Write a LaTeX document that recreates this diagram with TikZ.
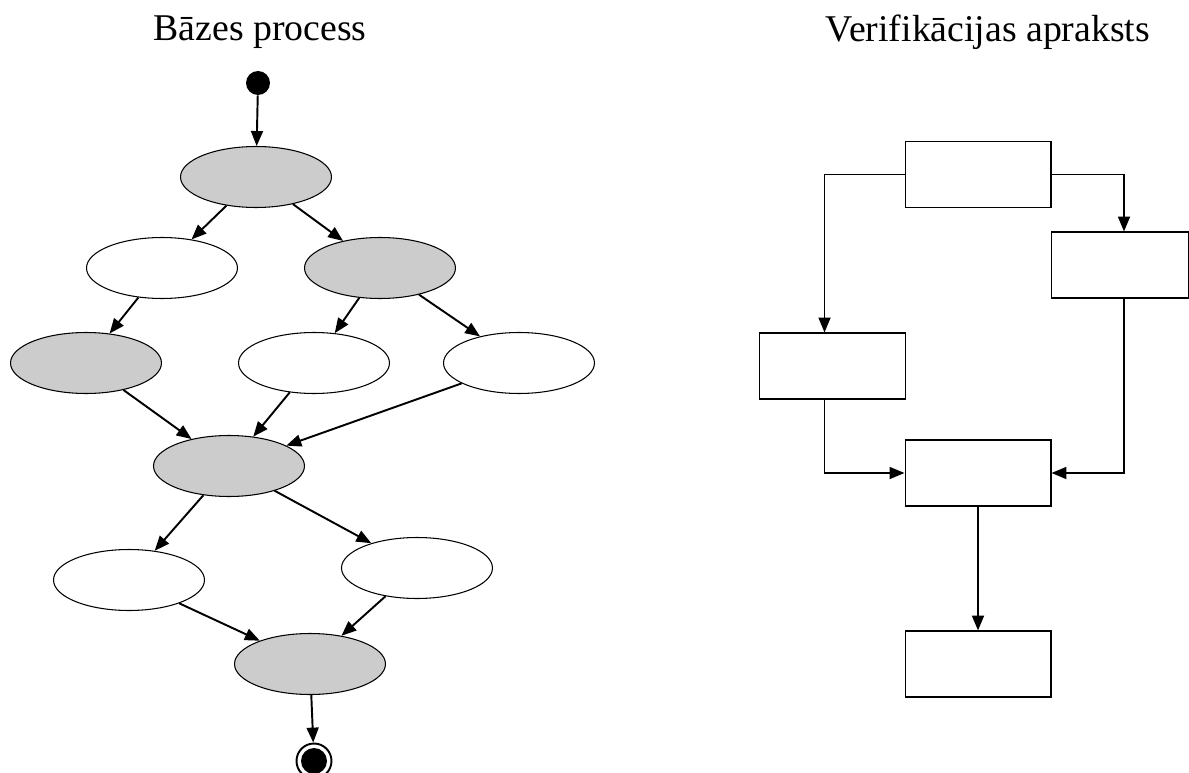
\documentclass[tikz,border=0pt]{standalone}
\usepackage{fontspec}
\setmainfont{Liberation Serif}
\usetikzlibrary{arrows.meta, shapes.geometric}
\definecolor{shade}{HTML}{CCCCCC}
\begin{document}
\begin{tikzpicture}[
    x=0.02cm, y=-0.02cm,
    title/.style={font=\fontsize{21.5}{24}\selectfont, text=black},
    act/.style={ellipse, draw, line width=0.6pt, minimum width=3.02cm, minimum height=1.22cm, inner sep=0pt},
    busy/.style={act, fill=shade},
    idle/.style={act, fill=white},
    stepbox/.style={rectangle, draw, line width=0.6pt, minimum width=2.92cm, minimum height=1.32cm, inner sep=0pt},
    flow/.style={draw, line width=1.1pt, -{Triangle[length=8.5pt, width=6.8pt]}}
]
\useasboundingbox (0,0) rectangle (1189,773);

% left: base process
\node[title] at (260,32) {Bāzes process};
\node[circle, fill=black, minimum size=0.48cm, inner sep=0pt] (start) at (258,83) {};
\node[busy] (a1) at (256,177) {};
\node[idle] (a2) at (162,268) {};
\node[busy] (a3) at (380,268) {};
\node[busy] (a4) at (86,363) {};
\node[idle] (a5) at (314,363) {};
\node[idle] (a6) at (519,363) {};
\node[busy] (a7) at (229,466) {};
\node[idle] (a8) at (129,580) {};
\node[idle] (a9) at (417,568) {};
\node[busy] (a10) at (310,664) {};
\node[circle, draw, line width=1.1pt, minimum size=0.7cm, inner sep=0pt,
      path picture={\fill (path picture bounding box.center) circle (0.26cm);}]
      (stop) at (314,761) {};

\foreach \u/\v in {start/a1, a1/a2, a1/a3, a2/a4, a3/a5, a3/a6,
                   a4/a7, a5/a7, a6/a7, a7/a8, a7/a9, a8/a10, a9/a10, a10/stop}
  \draw[flow] (\u) -- (\v);

% right: verification description
\node[title] at (988,32) {Verifikācijas apraksts};
\node[stepbox] (b1) at (978,174.5) {};
\node[stepbox, minimum width=2.76cm] (b2) at (1120,265) {};
\node[stepbox] (b3) at (832.5,366) {};
\node[stepbox] (b4) at (978,473) {};
\node[stepbox] (b5) at (978,664) {};

\draw[flow] (b1.west) -| ([xshift=-0.16cm]b3.north);
\draw[flow] (b1.east) -| ([xshift=0.08cm]b2.north);
\draw[flow] ([xshift=-0.16cm]b3.south) |- (b4.west);
\draw[flow] ([xshift=0.08cm]b2.south) |- (b4.east);
\draw[flow] (b4) -- (b5);
\end{tikzpicture}
\end{document}
